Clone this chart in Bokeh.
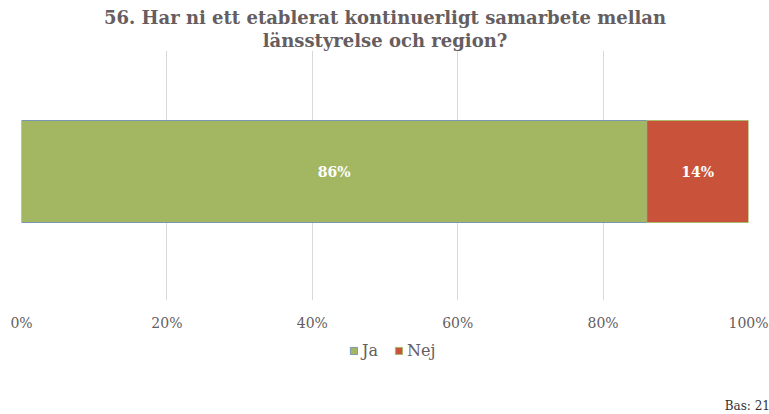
from bokeh.plotting import figure
from bokeh.layouts import column
from bokeh.models import ColumnDataSource, Range1d, Legend, LegendItem, Div, FixedTicker, NumeralTickFormatter, Title
from bokeh.core.properties import value
from bokeh.embed import file_html
from bokeh.resources import INLINE

title_lines = ["56. Har ni ett etablerat kontinuerligt samarbete mellan", "länsstyrelse och region?"]
categories = ["Ja", "Nej"]
values = [0.86, 0.14]
colors = ["#a3b763", "#c8533a"]
outlines = ["#7896b2", "#a9ba6c"]
tick_values = [0, 0.2, 0.4, 0.6, 0.8, 1.0]
base_text = "Bas: 21"

FONT = "DejaVu Serif"
GRAY = "#655d60"

lefts, rights = [], []
acc = 0.0
for v in values:
    lefts.append(acc)
    acc += v
    rights.append(acc)

src = ColumnDataSource(dict(
    cat=categories, left=lefts, right=rights, color=colors, outline=outlines,
    y=[0, 0], mid=[(l + r) / 2 for l, r in zip(lefts, rights)],
    lab=[f"{round(v * 100)}%" for v in values],
))

# ---- main chart ----
p = figure(width=769, height=340, output_backend="svg", toolbar_location=None,
           x_range=Range1d(0, 1), y_range=Range1d(-1.29, 1.21),
           min_border_left=21, min_border_right=21, min_border_top=50, min_border_bottom=40)

p.title.text = title_lines[0]
t2 = Title(text=title_lines[1])
for t in (p.title, t2):
    t.align = "center"
    t.text_font = FONT
    t.text_font_size = "18px"
    t.text_font_style = "bold"
    t.text_color = GRAY
    t.standoff = 0
p.add_layout(t2, "above")

r = p.hbar(y="y", left="left", right="right", height=1.02, fill_color="color",
           line_color="outline", line_width=1, source=src)

p.text(x="mid", y="y", text="lab", source=src, text_align="center", text_baseline="middle",
       text_color="white", text_font_size="14px", text_font_style="bold",
       text_font=value(FONT))

p.xaxis.ticker = FixedTicker(ticks=tick_values)
p.xaxis.formatter = NumeralTickFormatter(format="0%")
p.xaxis.axis_line_color = None
p.xaxis.major_tick_line_color = None
p.xaxis.minor_tick_line_color = None
p.xaxis.major_label_standoff = 8
p.xaxis.major_label_text_font = FONT
p.xaxis.major_label_text_font_size = "14px"
p.xaxis.major_label_text_color = GRAY
p.yaxis.visible = False
p.ygrid.visible = False
p.xgrid.grid_line_color = "#d9d9d9"
p.outline_line_color = None

# ---- legend strip ----
q = figure(width=769, height=52, output_backend="svg", toolbar_location=None,
           x_range=Range1d(0, 1), y_range=Range1d(10, 11),
           x_axis_location=None, y_axis_location=None,
           min_border_left=0, min_border_right=0, min_border_top=0, min_border_bottom=0)
q.xgrid.visible = False
q.ygrid.visible = False
q.outline_line_color = None
rq = q.hbar(y="y", left="left", right="right", height=1.02, fill_color="color",
            line_color="outline", line_width=1, source=src)

legend = Legend(items=[LegendItem(label=c, renderers=[rq], index=i) for i, c in enumerate(categories)],
                orientation="horizontal", location=(328, 32),
                glyph_width=9, glyph_height=9, label_standoff=4, spacing=12,
                label_text_font=FONT, label_text_font_size="16px", label_text_color=GRAY,
                border_line_color=None, background_fill_alpha=0, margin=0, padding=4)
q.add_layout(legend)

# ---- base note ----
bas = Div(text=base_text, width=765, height=22,
          styles={"text-align": "right", "font-family": FONT, "font-size": "12px",
                  "color": "#333333", "line-height": "18px", "width": "765px"})

open("out.html", "w").write(file_html(column(p, q, bas, spacing=0), INLINE))
